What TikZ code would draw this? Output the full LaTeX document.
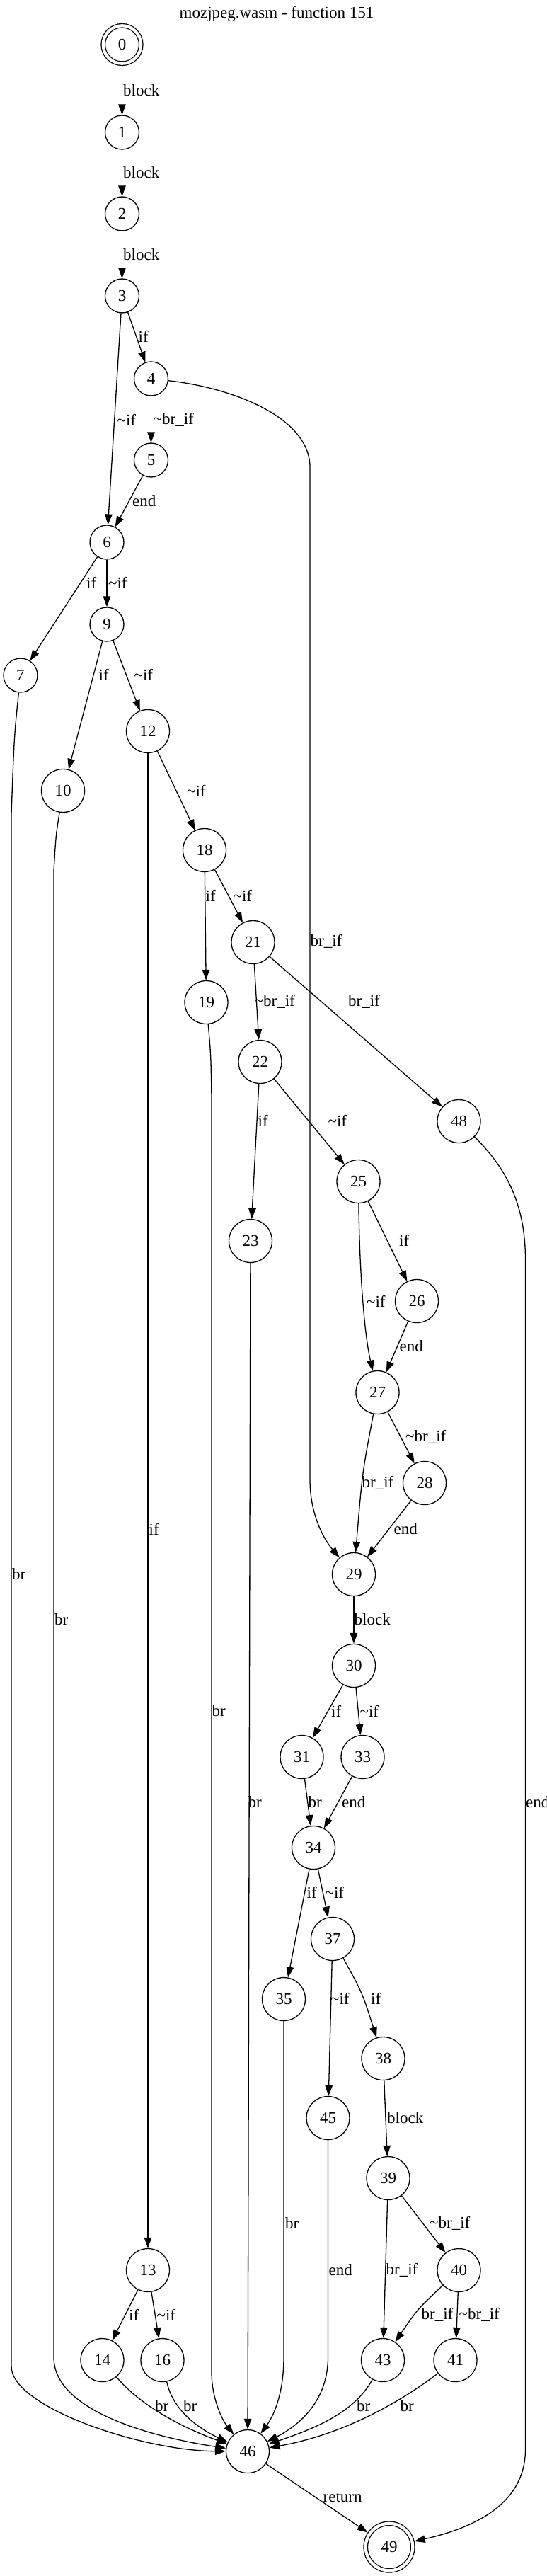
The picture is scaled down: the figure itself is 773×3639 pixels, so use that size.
\documentclass[tikz,border=0pt]{standalone}
\usepackage{fontspec}
\setmainfont{Liberation Serif}
\usetikzlibrary{arrows.meta,positioning}
\newcommand{\tld}{\textasciitilde}

\begin{document}
\begin{tikzpicture}[x=1pt, y=-1pt,
                    every node/.style={font=\fontsize{23}{27}\selectfont},
                    blk/.style ={circle, draw=black, line width=1.3pt, minimum size=48pt, inner sep=0},
                    blkw/.style={blk, minimum size=61pt},
                    term/.style={blk, double, double distance=4.2pt, outer sep=3.4pt},
                    flow/.style={draw, line width=1.3pt, -{Triangle[length=15pt, width=10.5pt]}},
                    tag/.style ={anchor=west, inner sep=0}]

      \useasboundingbox (0, 0) rectangle (773, 3639);
      \node at(391, 20) (title) {mozjpeg.wasm - function 151};

      % blocks
      \node[term, minimum size=53.5pt] at(172.5,   63) (b0)  {0};
      \node[blk]  at(172.5,  187) (b1)  {1};
      \node[blk]  at(172.5,  302) (b2)  {2};
      \node[blk]  at(172.5,  418) (b3)  {3};
      \node[blk]  at(213.5,  535) (b4)  {4};
      \node[blk]  at(213.5,  650) (b5)  {5};
      \node[blk]  at(151,    766) (b6)  {6};
      \node[blk]  at(29,     954) (b7)  {7};
      \node[blk]  at(151,    882) (b9)  {9};
      \node[blkw] at(89,    1117) (b10) {10};
      \node[blkw] at(209,   1033) (b12) {12};
      \node[blkw] at(289,   1201) (b18) {18};
      \node[blkw] at(357.5, 1331) (b21) {21};
      \node[blkw] at(291.5, 1416) (b19) {19};
      \node[blkw] at(367.5, 1500) (b22) {22};
      \node[blkw] at(648.5, 1584) (b48) {48};
      \node[blkw] at(506.5, 1669) (b25) {25};
      \node[blkw] at(354,   1753) (b23) {23};
      \node[blkw] at(589,   1838) (b26) {26};
      \node[blkw] at(533.5, 1967) (b27) {27};
      \node[blkw] at(600,   2095) (b28) {28};
      \node[blkw] at(500,   2224) (b29) {29};
      \node[blkw] at(500,   2353) (b30) {30};
      \node[blkw] at(426.5, 2482) (b31) {31};
      \node[blkw] at(512.5, 2482) (b33) {33};
      \node[blkw] at(443,   2610) (b34) {34};
      \node[blkw] at(470,   2739) (b37) {37};
      \node[blkw] at(401,   2824) (b35) {35};
      \node[blkw] at(541.5, 2908) (b38) {38};
      \node[blkw] at(463.5, 2992) (b45) {45};
      \node[blkw] at(548.5, 3077) (b39) {39};
      \node[blkw] at(209,   3207) (b13) {13};
      \node[blkw] at(648.5, 3207) (b40) {40};
      \node[blkw] at(144.5, 3334) (b14) {14};
      \node[blkw] at(229.5, 3334) (b16) {16};
      \node[blkw] at(541,   3334) (b43) {43};
      \node[blkw] at(643.5, 3334) (b41) {41};
      \node[blkw] at(350,   3463) (b46) {46};
      \node[term, minimum size=66.5pt] at(550, 3598) (b49) {49};

      % edges
      \path[flow] (b0)  -- (b1)  node[tag] at(173.5,  128) {block};
      \path[flow] (b1)  -- (b2)  node[tag] at(173.5,  244) {block};
      \path[flow] (b2)  -- (b3)  node[tag] at(173.5,  360) {block};
      \path[flow] (b3)  -- (b4)  node[tag] at(195,    475) {if};
      \path[flow] (b3)  -- (b6)  node[tag] at(165,    593) {\tld if};
      \path[flow] (b4)  -- (b5)  node[tag] at(216,    593) {\tld br\_if};
      \path[flow] (b4)  .. controls (330, 548) and (438, 590) .. (438, 660)
                        -- (438, 2090) .. controls (438, 2140) and (458, 2175) .. (b29)
                                 node[tag] at(438,   1330) {br\_if};
      \path[flow] (b5)  -- (b6)  node[tag] at(186.5,  708) {end};
      \path[flow] (b6)  -- (b7)  node[tag] at(121.5,  823) {if};
      \path[flow] (b6)  -- (b9)  node[tag] at(152.5,  823) {\tld if};
      \path[flow] (b9)  -- (b10) node[tag] at(139,    953) {if};
      \path[flow] (b9)  -- (b12) node[tag] at(189,    953) {\tld if};
      \path[flow] (b7)  .. controls (20, 1040) .. (16, 1150)
                        -- (16, 3343) .. controls (16, 3400) and (200, 3462) .. (b46)
                                 node[tag] at(16.5,  2224) {br};
      \path[flow] (b10) .. controls (79, 1180) .. (76, 1230)
                        -- (76, 3330) .. controls (76, 3410) and (230, 3445) .. (b46)
                                 node[tag] at(76.5,  2288) {br};
      \path[flow] (b12) -- (b13) node[tag] at(210,   2160) {if};
      \path[flow] (b12) -- (b18) node[tag] at(263.5, 1117) {\tld if};
      \path[flow] (b18) -- (b19) node[tag] at(290,   1265) {if};
      \path[flow] (b18) -- (b21) node[tag] at(329,   1265) {\tld if};
      \path[flow] (b19) .. controls (298, 1490) .. (299, 1550)
                        -- (299, 3350) .. controls (299, 3390) and (315, 3420) .. (b46)
                                 node[tag] at(299,   2417) {br};
      \path[flow] (b21) -- (b22) node[tag] at(359,   1415) {\tld br\_if};
      \path[flow] (b21) -- (b48) node[tag] at(491.5, 1415) {br\_if};
      \path[flow] (b22) -- (b23) node[tag] at(364,   1583) {if};
      \path[flow] (b22) -- (b25) node[tag] at(463,   1583) {\tld if};
      \path[flow] (b23) -- (b46) node[tag] at(350,   2546) {br};
      \path[flow] (b25) -- (b26) node[tag] at(563.5, 1752) {if};
      \path[flow] (b25) .. controls (508, 1790) and (514, 1880) .. (b27)
                                 node[tag] at(517.5, 1838) {\tld if};
      \path[flow] (b26) -- (b27) node[tag] at(564,   1902) {end};
      \path[flow] (b27) -- (b28) node[tag] at(572.5, 2030) {\tld br\_if};
      \path[flow] (b27) .. controls (512, 2080) .. (b29)
                                 node[tag] at(511,   2095) {br\_if};
      \path[flow] (b28) -- (b29) node[tag] at(556,   2160) {end};
      \path[flow] (b29) -- (b30) node[tag] at(500,   2288) {block};
      \path[flow] (b30) -- (b31) node[tag] at(467.5, 2417) {if};
      \path[flow] (b30) -- (b33) node[tag] at(508,   2417) {\tld if};
      \path[flow] (b31) -- (b34) node[tag] at(435,   2546) {br};
      \path[flow] (b33) -- (b34) node[tag] at(482.5, 2546) {end};
      \path[flow] (b34) -- (b35) node[tag] at(433,   2673) {if};
      \path[flow] (b34) -- (b37) node[tag] at(459,   2673) {\tld if};
      \path[flow] (b35) -- (401, 3330) .. controls (401, 3385) and (385, 3415) .. (b46)
                                 node[tag] at(402.5, 3141) {br};
      \path[flow] (b37) -- (b45) node[tag] at(466.5, 2823) {\tld if};
      \path[flow] (b37) .. controls (512, 2815) .. (b38)
                                 node[tag] at(523.5, 2823) {if};
      \path[flow] (b38) -- (b39) node[tag] at(546.5, 2992) {block};
      \path[flow] (b45) -- (463.5, 3330) .. controls (463.5, 3390) and (425, 3425) .. (b46)
                                 node[tag] at(464,   3207) {end};
      \path[flow] (b39) -- (b40) node[tag] at(606.5, 3141) {\tld br\_if};
      \path[flow] (b39) -- (b43) node[tag] at(545,   3207) {br\_if};
      \path[flow] (b40) .. controls (590, 3262) .. (b43)
                                 node[tag] at(595,   3270) {br\_if};
      \path[flow] (b40) -- (b41) node[tag] at(648,   3270) {\tld br\_if};
      \path[flow] (b13) -- (b14) node[tag] at(181.5, 3270) {if};
      \path[flow] (b13) -- (b16) node[tag] at(221,   3270) {\tld if};
      \path[flow] (b14) .. controls (200, 3400) and (260, 3430) .. (b46)
                                 node[tag] at(218.5, 3399) {br};
      \path[flow] (b16) .. controls (245, 3410) and (290, 3435) .. (b46)
                                 node[tag] at(258.5, 3399) {br};
      \path[flow] (b43) .. controls (500, 3410) and (440, 3432) .. (b46)
                                 node[tag] at(503.5, 3399) {br};
      \path[flow] (b41) .. controls (550, 3405) and (470, 3442) .. (b46)
                                 node[tag] at(565,   3399) {br};
      \path[flow] (b46) -- (b49) node[tag] at(456,   3528) {return};
      \path[flow] (b48) .. controls (715, 1650) and (742.5, 1700) .. (742.5, 1780)
                        -- (742.5, 3460) .. controls (742.5, 3540) and (665, 3572) .. (b49)
                                 node[tag] at(742.5, 2546) {end};
    \end{tikzpicture}
\end{document}
